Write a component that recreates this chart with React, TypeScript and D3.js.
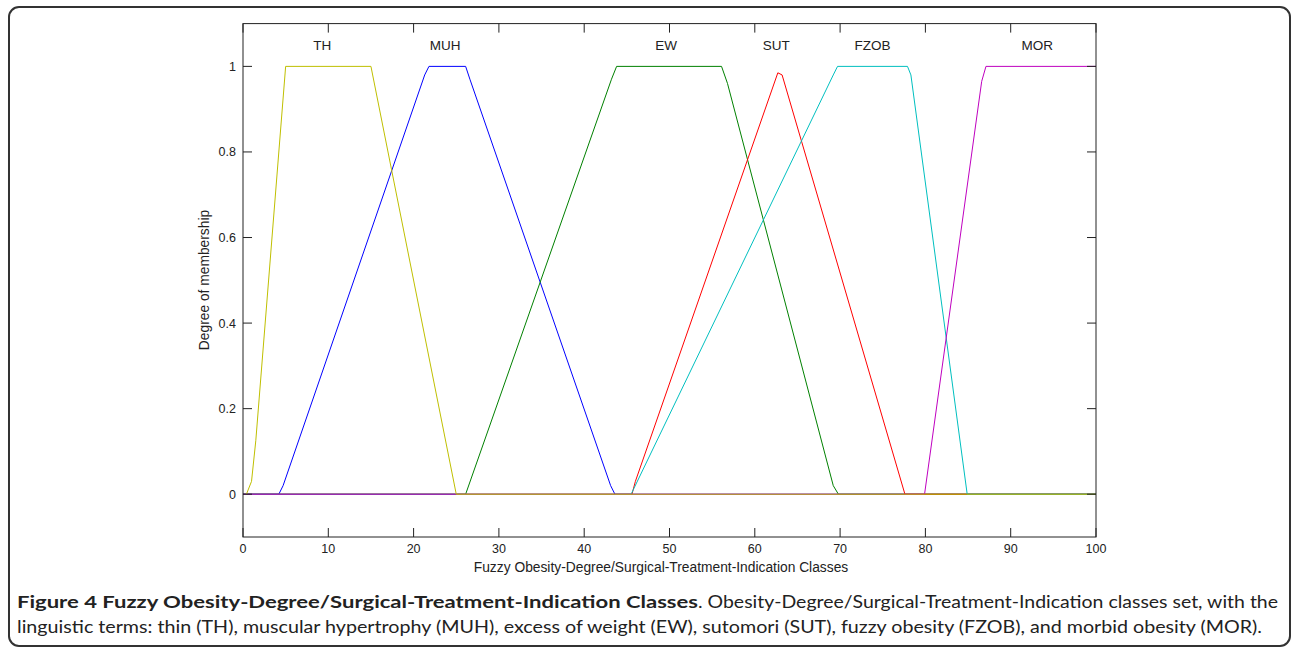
import React, { useEffect, useRef } from "react";
import * as d3 from "d3";

// membership function vertices: [x, degree]
const muhPoints = [[0, 0], [4.2, 0], [4.7, 0.02], [21.3, 0.98], [21.8, 1], [26.1, 1], [26.6, 0.97], [43.1, 0.02], [43.6, 0], [100, 0]];
const ewPoints = [[0, 0], [26.1, 0], [43.2, 0.97], [43.8, 1], [56.1, 1], [56.8, 0.96], [69.2, 0.02], [69.8, 0], [100, 0]];
const sutPoints = [[0, 0], [45.6, 0], [46.0, 0.03], [62.7, 0.985], [63.2, 0.98], [77.6, 0], [100, 0]];
const fzobPoints = [[0, 0], [45.5, 0], [69.2, 0.98], [69.7, 1], [77.9, 1], [78.3, 0.98], [84.9, 0], [100, 0]];
const morPoints = [[0, 0], [79.9, 0], [86.6, 0.965], [87.1, 1], [100, 1]];
const thPoints = [[0.4, 0], [1.0, 0.03], [1.5, 0.125], [5.0, 1], [15.0, 1], [25.0, 0], [100, 0]];

const termNames = ["MUH", "EW", "SUT", "FZOB", "MOR", "TH"];
const termColors = ["#0000ff", "#008000", "#ff0000", "#00bfbf", "#bf00bf", "#bfbf00"];
// label positions (x in data units, y in degree)
const labelX = [23.7, 49.6, 62.5, 73.8, 93.1, 9.3];
const labelY = 1.05;

const xTicks = [0, 10, 20, 30, 40, 50, 60, 70, 80, 90, 100];
const yTicks = [0, 0.2, 0.4, 0.6, 0.8, 1];

const captionBold = "Figure 4 Fuzzy Obesity-Degree/Surgical-Treatment-Indication Classes";
const captionRest1 = ". Obesity-Degree/Surgical-Treatment-Indication classes set, with the";
const captionLine2 = "linguistic terms: thin (TH), muscular hypertrophy (MUH), excess of weight (EW), sutomori (SUT), fuzzy obesity (FZOB), and morbid obesity (MOR).";

const W = 1292, H = 647;
const plot = { left: 243, right: 1096, top: 23.6, bottom: 537 };

function drawChart(el) {
  const svg = d3.select(el);
  svg.selectAll("*").remove();

  const x = d3.scaleLinear().domain([0, 100]).range([plot.left, plot.right]);
  const y = d3.scaleLinear().domain([-0.1, 1.1]).range([plot.bottom, plot.top]);

  // outer rounded frame
  svg.append("rect")
    .attr("x", 9).attr("y", 7).attr("width", 1281).attr("height", 639)
    .attr("rx", 10).attr("fill", "none").attr("stroke", "#333").attr("stroke-width", 2);

  const series = [muhPoints, ewPoints, sutPoints, fzobPoints, morPoints, thPoints];
  const line = d3.line().x((d) => x(d[0])).y((d) => y(d[1]));

  series.forEach((pts, i) => {
    svg.append("path")
      .datum(pts)
      .attr("d", line)
      .attr("fill", "none")
      .attr("stroke", termColors[i])
      .attr("stroke-width", 1);
  });

  // axes box
  svg.append("rect")
    .attr("x", plot.left).attr("y", plot.top)
    .attr("width", plot.right - plot.left).attr("height", plot.bottom - plot.top)
    .attr("fill", "none").attr("stroke", "#222").attr("stroke-width", 1);

  const tickLen = 9;
  const font = "'Liberation Sans', Arial, sans-serif";

  xTicks.forEach((t) => {
    svg.append("line").attr("x1", x(t)).attr("x2", x(t))
      .attr("y1", plot.bottom).attr("y2", plot.bottom - tickLen).attr("stroke", "#222");
    svg.append("line").attr("x1", x(t)).attr("x2", x(t))
      .attr("y1", plot.top).attr("y2", plot.top + tickLen).attr("stroke", "#222");
    svg.append("text").attr("x", x(t)).attr("y", 553)
      .attr("text-anchor", "middle").attr("font-family", font).attr("font-size", 12.5)
      .attr("fill", "#222").text(t);
  });

  yTicks.forEach((t) => {
    svg.append("line").attr("x1", plot.left).attr("x2", plot.left + tickLen)
      .attr("y1", y(t)).attr("y2", y(t)).attr("stroke", "#222");
    svg.append("line").attr("x1", plot.right).attr("x2", plot.right - tickLen)
      .attr("y1", y(t)).attr("y2", y(t)).attr("stroke", "#222");
    svg.append("text").attr("x", 236).attr("y", y(t)).attr("dy", "0.36em")
      .attr("text-anchor", "end").attr("font-family", font).attr("font-size", 12.5)
      .attr("fill", "#222").text(t);
  });

  svg.append("text")
    .attr("x", 661).attr("y", 572)
    .attr("text-anchor", "middle").attr("font-family", font).attr("font-size", 13.8)
    .attr("fill", "#222").text("Fuzzy Obesity-Degree/Surgical-Treatment-Indication Classes");

  svg.append("text")
    .attr("transform", `translate(209, 280) rotate(-90)`)
    .attr("text-anchor", "middle").attr("font-family", font).attr("font-size", 13.8)
    .attr("fill", "#222").text("Degree of membership");

  termNames.forEach((name, i) => {
    svg.append("text").attr("x", x(labelX[i])).attr("y", y(labelY)).attr("dy", "0.36em")
      .attr("text-anchor", "middle").attr("font-family", font).attr("font-size", 13.5)
      .attr("fill", "#222").text(name);
  });

  // caption
  const capFont = "Lato, 'Open Sans', sans-serif";
  svg.append("text").attr("x", 17).attr("y", 608)
    .attr("font-family", capFont).attr("font-size", 17).attr("font-weight", "bold")
    .attr("fill", "#222").attr("textLength", 681).attr("lengthAdjust", "spacingAndGlyphs")
    .text(captionBold);
  svg.append("text").attr("x", 698).attr("y", 608)
    .attr("font-family", capFont).attr("font-size", 17)
    .attr("fill", "#222").attr("textLength", 580).attr("lengthAdjust", "spacingAndGlyphs")
    .text(captionRest1);
  svg.append("text").attr("x", 17).attr("y", 633)
    .attr("font-family", capFont).attr("font-size", 17)
    .attr("fill", "#222").attr("textLength", 1245).attr("lengthAdjust", "spacingAndGlyphs")
    .text(captionLine2);
}

export default function App() {
  const ref = useRef(null);
  useEffect(() => {
    drawChart(ref.current);
  }, []);
  return (
    <svg
      ref={ref}
      width={W}
      height={H}
      style={{ position: "absolute", left: 0, top: 0, background: "#fff" }}
    />
  );
}
